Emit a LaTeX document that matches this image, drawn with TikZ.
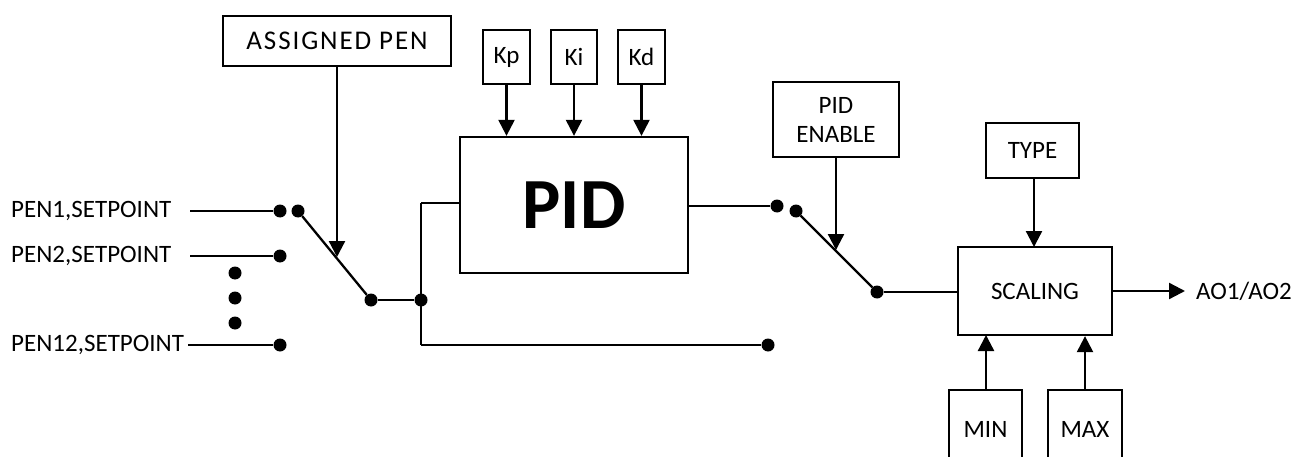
\documentclass[tikz,border=0pt]{standalone}
\usepackage{fontspec}
\setmainfont{Carlito}
\usetikzlibrary{arrows.meta,calc}

\tikzset{
  wire/.style={line width=2.3pt},
  arr/.style={wire,-{Triangle[width=16pt,length=16pt]}},
  box/.style={draw,line width=2.3pt,inner sep=0pt,font=\fontsize{25}{29}\selectfont,align=center},
  dot/.style={circle,fill,inner sep=0pt,minimum size=13pt},
  lbl/.style={inner sep=0pt,font=\fontsize{25}{29}\selectfont},
}

\begin{document}
\begin{tikzpicture}[x=1pt,y=-1pt]
\clip (0,0) rectangle (1297,457);

% ---- inputs ----
\node[lbl,anchor=west] (in1) at (11,211) {PEN1,SETPOINT};
\node[lbl,anchor=west] (in2) at (11,256) {PEN2,SETPOINT};
\node[lbl,anchor=west] (in12) at (11,345) {PEN12,SETPOINT};
\coordinate (s1) at (190,211);
\coordinate (s2) at (190,256);
\coordinate (s12) at (188,345);
\node[dot] (c1) at (280,211) {};
\node[dot] (c2) at (280,256) {};
\node[dot] (c12) at (280,345) {};
\draw[wire] (s1) -- (c1);
\draw[wire] (s2) -- (c2);
\draw[wire] (s12) -- (c12);
\node[dot] (v1) at (235,273) {};
\node[dot] (v2) at (235,298) {};
\node[dot] (v3) at (235,323) {};

% ---- input selector ----
\node[dot] (p1) at (298,211) {};
\node[dot] (e1) at (371,300) {};
\draw[wire] (p1) -- (e1);
\node[box,minimum width=228pt,minimum height=50pt] (ap) at (337,41)
  {\fontsize{27}{29}\selectfont\addfontfeature{LetterSpace=7}ASSIGNED PEN};
\coordinate (t1) at (337,257);
\draw[arr] (ap.south) -- (t1);

\node[dot] (j) at (421,300) {};
\draw[wire] (e1) -- (j);
\coordinate (jt) at (421,203);
\coordinate (jb) at (421,345);
\draw[wire] (jt) -- (jb);

% ---- PID block ----
\node[box,minimum width=228pt,minimum height=136pt] (pid) at (574,205)
  {\fontsize{72}{72}\selectfont\bfseries PID};
\draw[wire] (jt) -- (jt -| pid.west);
\node[dot] (byp) at (768,345) {};
\draw[wire] (jb) -- (byp);

\node[box,minimum width=47pt,minimum height=54pt] (kp) at (506.5,57) {Kp};
\node[box,minimum width=46pt,minimum height=54pt] (ki) at (574,57) {Ki};
\node[box,minimum width=47pt,minimum height=54pt] (kd) at (641.5,57) {Kd};
\draw[arr] (kp.south) -- (kp.south |- pid.north);
\draw[arr] (ki.south) -- (ki.south |- pid.north);
\draw[arr] (kd.south) -- (kd.south |- pid.north);

% ---- enable switch ----
\node[dot] (po) at (777,206) {};
\draw[wire] (pid.east |- po) -- (po);
\node[dot] (p2) at (796,211) {};
\node[dot] (e2) at (877,292) {};
\draw[wire] (p2) -- (e2);
\node[box,minimum width=126pt,minimum height=75pt] (en) at (836,119.5)
  {PID\\ENABLE};
\coordinate (t2) at (836,250);
\draw[arr] (en.south) -- (t2);

% ---- scaling ----
\node[box,minimum width=154pt,minimum height=88pt] (sc) at (1035,291) {SCALING};
\draw[wire] (e2) -- (e2 -| sc.west);
\node[box,minimum width=93pt,minimum height=55pt] (ty) at (1032.5,150.5) {TYPE};
\draw[arr] (1034,178) -- (1034,247);
\node[lbl,anchor=west] (out) at (1196,291) {AO1/AO2};
\draw[arr] (sc.east) -- (out.west -| 1185,0);

\node[box,minimum width=73pt,minimum height=78pt] (mn) at (985.5,429) {MIN};
\node[box,minimum width=74pt,minimum height=78pt] (mx) at (1085,429) {MAX};
\draw[arr] (mn.north -| 986,0) -- (986,335);
\draw[arr] (mx.north) -- (mx.north |- sc.south);
\end{tikzpicture}
\end{document}
